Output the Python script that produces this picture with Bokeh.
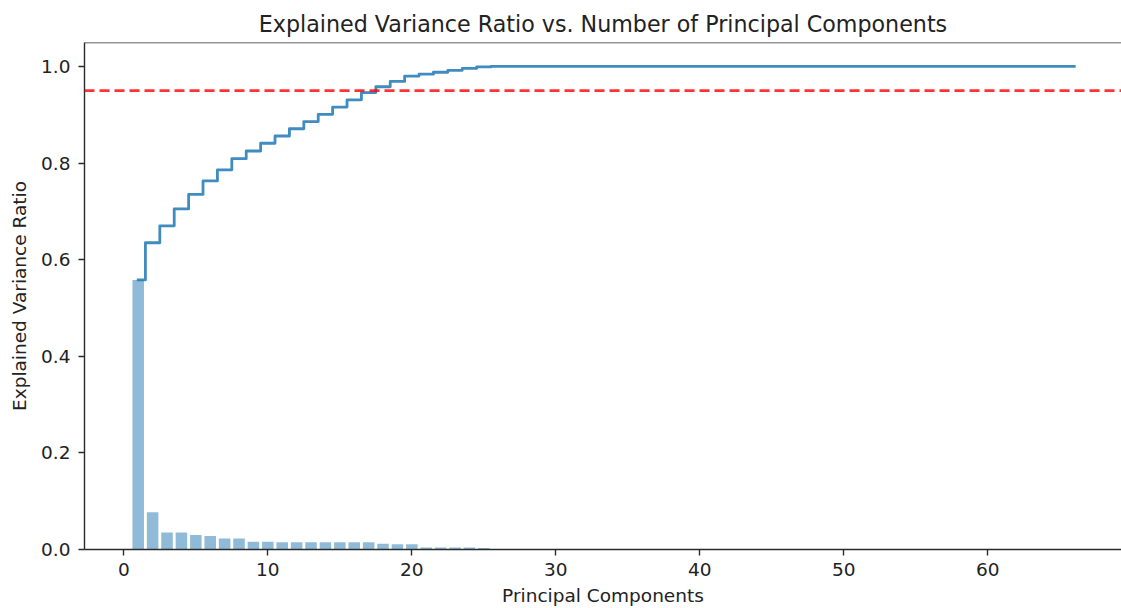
import numpy as np
from bokeh.plotting import figure
from bokeh.models import Span, FixedTicker, Range1d, PrintfTickFormatter
from bokeh.embed import file_html
from bokeh.resources import INLINE

# Explained variance ratio of each principal component (66 components)
components = list(range(1, 67))
explained_ratio = [
    0.558, 0.077, 0.035, 0.035, 0.030, 0.028, 0.023, 0.023, 0.016, 0.016,
    0.015, 0.015, 0.015, 0.015, 0.015, 0.015, 0.015, 0.012, 0.011, 0.011,
    0.004, 0.004, 0.004, 0.004, 0.003, 0.001, 0.0, 0.0, 0.0, 0.0,
    0.0, 0.0, 0.0, 0.0, 0.0, 0.0, 0.0, 0.0, 0.0, 0.0,
    0.0, 0.0, 0.0, 0.0, 0.0, 0.0, 0.0, 0.0, 0.0, 0.0,
    0.0, 0.0, 0.0, 0.0, 0.0, 0.0, 0.0, 0.0, 0.0, 0.0,
    0.0, 0.0, 0.0, 0.0, 0.0, 0.0,
]
cumulative_ratio = list(np.cumsum(explained_ratio))
threshold = 0.95
x_ticks = [0, 10, 20, 30, 40, 50, 60]
y_ticks = [0.0, 0.2, 0.4, 0.6, 0.8, 1.0]

FONT = "DejaVu Sans"
TEXT = "#222222"
SPINE = "#2a2a2a"
BLUE = "#1f77b4"

p = figure(
    width=1121, height=608,
    x_range=Range1d(-2.73, 69.28), y_range=Range1d(0.0, 1.0496),
    output_backend="svg", toolbar_location=None,
    title="Explained Variance Ratio vs. Number of Principal Components",
    min_border_left=84, min_border_right=0, min_border_top=42, min_border_bottom=58,
)
p.background_fill_color = "white"
p.border_fill_color = "white"
p.outline_line_color = None
p.grid.visible = False

p.title.text_font = FONT
p.title.text_font_size = "22.2px"
p.title.text_font_style = "normal"
p.title.text_color = TEXT
p.title.align = "center"
p.title.standoff = 12

for ax in (p.xaxis[0], p.yaxis[0]):
    ax.axis_line_color = SPINE
    ax.axis_line_width = 1.4
    ax.major_tick_line_color = SPINE
    ax.major_tick_line_width = 1.4
    ax.major_tick_in = 0
    ax.major_tick_out = 6
    ax.minor_tick_line_color = None
    ax.major_label_text_font = FONT
    ax.major_label_text_font_size = "18.5px"
    ax.major_label_text_color = TEXT
    ax.axis_label_text_font = FONT
    ax.axis_label_text_font_size = "18.5px"
    ax.axis_label_text_font_style = "normal"
    ax.axis_label_text_color = TEXT

p.xaxis[0].ticker = FixedTicker(ticks=x_ticks)
p.yaxis[0].ticker = FixedTicker(ticks=y_ticks)
p.yaxis[0].formatter = PrintfTickFormatter(format="%.1f")
p.xaxis[0].axis_label = "Principal Components"
p.yaxis[0].axis_label = "Explained Variance Ratio"
p.xaxis[0].major_label_standoff = 7
p.yaxis[0].major_label_standoff = 8
p.xaxis[0].axis_label_standoff = 6
p.yaxis[0].axis_label_standoff = 8

# top spine
p.add_layout(Span(location=1.0496, dimension="width", line_color=SPINE, line_width=1.4))

p.vbar(x=components, top=explained_ratio, width=0.8, bottom=0,
       fill_color=BLUE, fill_alpha=0.5, line_color=None)

p.step(x=components, y=cumulative_ratio, mode="center", line_color=BLUE,
       line_alpha=0.85, line_width=2.8, line_join="round", line_cap="square")

p.add_layout(Span(location=threshold, dimension="width", line_color="red",
                  line_alpha=0.8, line_width=2.8, line_dash="10 5"))

open("out.html", "w").write(file_html(p, INLINE))
